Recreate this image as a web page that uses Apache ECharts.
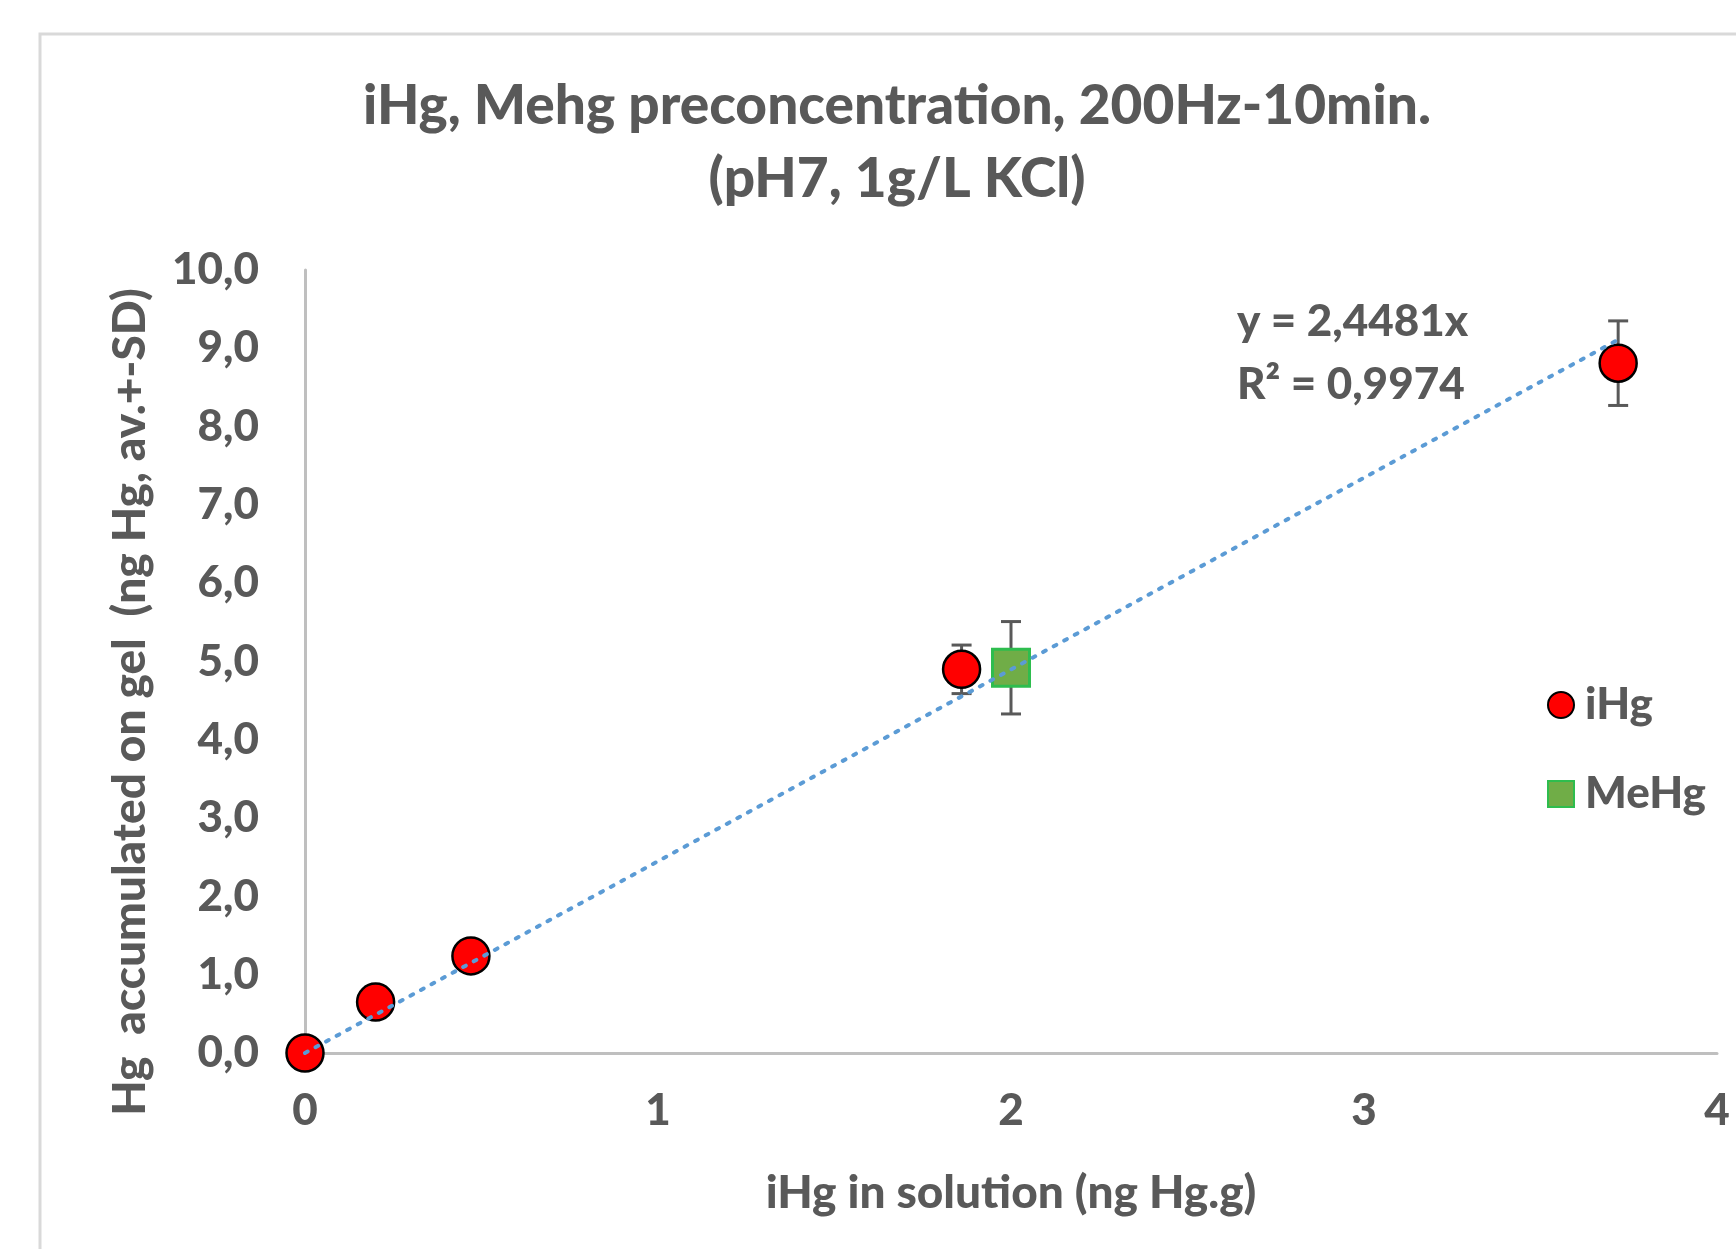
<!DOCTYPE html>
<html>
<head>
<meta charset="utf-8">
<script src="https://cdn.jsdelivr.net/npm/echarts@6/dist/echarts.min.js"></script>
<style>
html,body{margin:0;padding:0;background:#fff;}
#c{width:1736px;height:1249px;}
</style>
</head>
<body>
<div id="c"></div>
<script>
// ---- data ----
const iHgX = [0, 0.2, 0.47, 1.86, 3.72];
const iHgY = [0, 0.65, 1.24, 4.90, 8.81];
const iHgSD = [0, 0, 0, 0.31, 0.54];
const meHgX = [2.0];
const meHgY = [4.92];
const meHgSD = [0.59];
const trendX = [0, 3.72];
const trendY = [0, 9.11];
const titleLines = ['iHg, Mehg preconcentration, 200Hz-10min.', '(pH7, 1g/L KCl)'];
const equationLines = ['y = 2,4481x', 'R² = 0,9974'];
const xAxisName = 'iHg in solution (ng Hg.g)';
const yAxisName = 'Hg  accumulated on gel  (ng Hg, av.+-SD)';
const seriesNames = ['iHg', 'MeHg'];

const FONT = 'Lato';
const TXT = '#595959';
const W = 900;

const iHgData = iHgX.map((x, i) => [x, iHgY[i]]);
const meHgData = meHgX.map((x, i) => [x, meHgY[i]]);
const iHgErr = iHgX.map((x, i) => [x, iHgY[i] - iHgSD[i], iHgY[i] + iHgSD[i]]).filter((d, i) => iHgSD[i] > 0);
const meHgErr = meHgX.map((x, i) => [x, meHgY[i] - meHgSD[i], meHgY[i] + meHgSD[i]]);
const trendData = trendX.map((x, i) => [x, trendY[i]]);

function errRender(params, api) {
  const x = api.value(0);
  const lo = api.coord([x, api.value(1)]);
  const hi = api.coord([x, api.value(2)]);
  const hw = 10;
  const st = { stroke: '#595959', lineWidth: 3 };
  return {
    type: 'group',
    children: [
      { type: 'line', shape: { x1: lo[0], y1: lo[1], x2: hi[0], y2: hi[1] }, style: st },
      { type: 'line', shape: { x1: lo[0] - hw, y1: lo[1], x2: lo[0] + hw, y2: lo[1] }, style: st },
      { type: 'line', shape: { x1: hi[0] - hw, y1: hi[1], x2: hi[0] + hw, y2: hi[1] }, style: st }
    ]
  };
}

const chart = echarts.init(document.getElementById('c'));
chart.setOption({
  animation: false,
  backgroundColor: '#fff',
  textStyle: { fontFamily: FONT },
  grid: { left: 305, right: 19, top: 270, bottom: 196, containLabel: false },
  legend: {
    orient: 'vertical',
    left: 1542,
    top: 678,
    itemGap: 45,
    itemWidth: 26,
    itemHeight: 26,
    data: [{ name: seriesNames[0], icon: 'circle' }, { name: seriesNames[1], icon: 'rect' }],
    textStyle: { fontFamily: FONT, fontWeight: W, fontSize: 44, color: TXT, padding: [0, 0, 0, 6] }
  },
  xAxis: {
    type: 'value', min: 0, max: 4, interval: 1,
    name: xAxisName, nameLocation: 'middle', nameGap: 117,
    nameTextStyle: { fontFamily: FONT, fontWeight: W, fontSize: 46, color: TXT },
    axisLine: { show: true, onZero: false, lineStyle: { color: '#bfbfbf', width: 3 } },
    axisTick: { show: false },
    splitLine: { show: false },
    axisLabel: { fontFamily: FONT, fontWeight: W, fontSize: 44, color: TXT, margin: 36 }
  },
  yAxis: {
    type: 'value', min: 0, max: 10, interval: 1,
    axisLine: { show: true, onZero: false, lineStyle: { color: '#bfbfbf', width: 3 } },
    axisTick: { show: false },
    splitLine: { show: false },
    axisLabel: {
      fontFamily: FONT, fontWeight: W, fontSize: 44, color: TXT, margin: 46,
      formatter: v => v.toFixed(1).replace('.', ',')
    }
  },
  graphic: [
    {
      type: 'rect', z: -10, silent: true,
      shape: { x: 40, y: 34, width: 1800, height: 1400 },
      style: { fill: 'none', stroke: '#d9d9d9', lineWidth: 3 }
    },
    {
      type: 'text', x: 897, y: 70,
      style: {
        text: titleLines.join('\n'), fill: TXT, font: W + ' 55px ' + FONT,
        textAlign: 'center', lineHeight: 73
      }
    },
    {
      type: 'text', rotation: Math.PI / 2,
      style: {
        text: yAxisName, fill: TXT, font: W + ' 46px ' + FONT,
        textAlign: 'center', textVerticalAlign: 'middle'
      },
      x: 130, y: 702
    },
    {
      type: 'text', x: 1237, y: 290,
      style: {
        text: equationLines.join('\n'), fill: TXT, font: W + ' 44px ' + FONT,
        lineHeight: 63
      }
    }
  ],
  series: [
    {
      name: 'iHgErr', type: 'custom', renderItem: errRender, data: iHgErr, z: 2,
      encode: { x: 0, y: [1, 2] }, silent: true
    },
    {
      name: 'MeHgErr', type: 'custom', renderItem: errRender, data: meHgErr, z: 2,
      encode: { x: 0, y: [1, 2] }, silent: true
    },
    {
      name: seriesNames[0], type: 'scatter', data: iHgData, symbol: 'circle', symbolSize: 37, z: 3,
      itemStyle: { color: '#ff0000', borderColor: '#000', borderWidth: 2.5, opacity: 1 }
    },
    {
      name: seriesNames[1], type: 'scatter', data: meHgData, symbol: 'rect', symbolSize: 37, z: 3,
      itemStyle: { color: '#70AD47', borderColor: '#2ebd4e', borderWidth: 3, opacity: 1 }
    },
    {
      name: 'trend', type: 'line', data: trendData, z: 4, symbol: 'none', silent: true,
      lineStyle: { color: '#5B9BD5', width: 4, type: [3, 9], cap: 'round' }
    }
  ]
});
</script>
</body>
</html>
